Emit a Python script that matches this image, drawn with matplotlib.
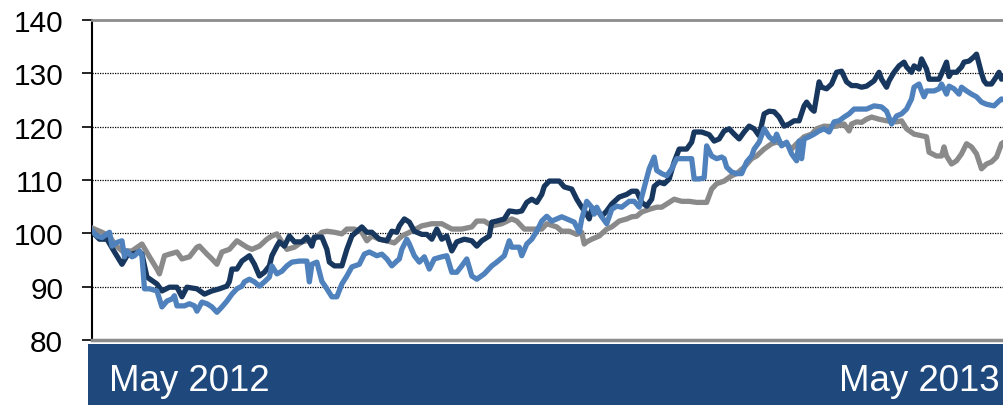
import matplotlib
matplotlib.use("Agg")
import matplotlib.pyplot as plt
from matplotlib.patches import Rectangle

# Calendar-day offsets from the start of the period and index levels (start = 100)
navy_days = [0, 3, 6, 9, 12, 14, 16, 19, 20, 22, 26, 28, 31, 34, 36, 38, 42, 45, 48, 51,
             54, 55, 56, 58, 60, 63, 65, 67, 69, 71, 72, 74, 75, 77, 79, 81, 84, 86, 88, 89,
             92, 94, 95, 97, 100, 102, 104, 108, 110, 112, 115, 118, 120, 122, 123, 125, 127, 129, 132, 134,
             136, 138, 140, 142, 144, 146, 149, 152, 154, 156, 159, 160, 162, 165, 167, 170, 172, 174, 176, 178,
             180, 181, 183, 187, 189, 192, 194, 196, 198, 199, 200, 202, 204, 206, 208, 211, 214, 216, 218, 220,
             222, 224, 225, 227, 229, 231, 233, 235, 238, 240, 241, 244, 247, 249, 251, 253, 255, 257, 259, 261,
             263, 265, 267, 269, 271, 273, 275, 277, 279, 281, 283, 285, 286, 288, 289, 291, 292, 294, 296, 298,
             300, 302, 304, 306, 308, 310, 313, 315, 316, 318, 319, 321, 323, 325, 326, 328, 329, 331, 332, 334,
             335, 337, 339, 340, 342, 343, 344, 346, 348, 349, 351, 353, 354, 356, 357, 358, 360, 362, 363, 364, 365]
navy_vals = [100.3, 98.9, 98.9, 96.5, 94.2, 95.8, 96.1, 96.5, 96.1, 91.8, 90.5, 89.2, 89.9, 89.9, 88.1, 89.9, 89.6, 88.6, 89.2, 89.6,
             90.1, 91.0, 93.3, 93.3, 94.8, 95.8, 94.2, 92.0, 92.7, 93.9, 95.8, 97.6, 98.4, 97.6, 99.5, 98.4, 98.4, 99.3, 97.6, 99.3,
             99.3, 97.0, 94.6, 93.9, 93.9, 97.0, 99.5, 101.2, 100.2, 100.2, 98.9, 98.6, 100.4, 100.2, 101.4, 102.7, 102.1, 100.4, 99.8, 99.8,
             98.9, 100.8, 98.9, 99.5, 96.7, 98.4, 98.9, 98.6, 97.6, 98.6, 99.5, 102.1, 102.3, 102.7, 104.2, 104.0, 104.2, 105.8, 106.4, 105.8,
             107.3, 108.8, 109.8, 109.8, 108.7, 108.3, 106.4, 104.9, 103.6, 102.7, 104.5, 104.5, 103.2, 104.2, 105.5, 106.8, 107.3, 107.9, 107.9, 105.8,
             105.1, 106.4, 108.8, 109.6, 109.3, 110.2, 113.4, 115.8, 115.8, 117.1, 119.0, 119.0, 118.5, 117.3, 117.7, 119.2, 119.6, 118.6, 117.7, 119.0,
             120.1, 119.6, 118.3, 122.4, 122.9, 122.8, 121.8, 120.1, 120.5, 121.1, 121.1, 123.9, 124.6, 123.3, 122.9, 128.4, 127.4, 127.1, 128.0, 130.2,
             130.4, 128.4, 127.7, 127.7, 127.4, 127.6, 128.6, 130.2, 128.9, 127.4, 128.6, 130.2, 131.4, 132.1, 131.2, 130.2, 131.4, 130.8, 132.7, 130.8,
             128.9, 128.9, 128.9, 129.9, 132.1, 129.4, 130.2, 130.2, 131.2, 132.1, 132.3, 133.1, 133.6, 130.0, 128.6, 128.0, 128.0, 129.4, 130.2, 128.9, 129.5]

blue_days = [0, 2, 4, 7, 8, 10, 12, 13, 14, 16, 17, 19, 20, 21, 23, 26, 28, 30, 32, 33,
             34, 37, 39, 41, 42, 44, 46, 48, 50, 52, 54, 56, 58, 60, 61, 63, 65, 67, 69, 71,
             72, 74, 76, 78, 80, 83, 86, 87, 88, 90, 92, 94, 96, 98, 100, 102, 104, 107, 109, 111,
             114, 116, 118, 120, 122, 123, 124, 126, 127, 129, 131, 133, 135, 137, 140, 142, 144, 146, 148, 150,
             152, 154, 157, 160, 162, 165, 167, 168, 171, 172, 174, 176, 178, 180, 182, 184, 188, 190, 193, 195,
             196, 198, 200, 201, 202, 204, 206, 208, 210, 212, 215, 217, 219, 220, 223, 225, 226, 228, 230, 232,
             234, 236, 239, 240, 241, 243, 245, 246, 248, 250, 252, 253, 254, 256, 258, 260, 262, 264, 265, 267,
             269, 271, 273, 274, 276, 278, 280, 282, 283, 284, 285, 287, 289, 291, 293, 295, 297, 299, 301, 303,
             305, 308, 310, 313, 316, 318, 320, 322, 324, 326, 328, 329, 331, 332, 333, 334, 337, 339, 340, 342,
             343, 345, 347, 348, 350, 352, 354, 356, 358, 361, 363, 364, 365]
blue_vals = [100.5, 99.5, 99.2, 100.2, 97.6, 98.3, 98.6, 95.6, 96.7, 95.6, 95.8, 96.7, 95.8, 89.6, 89.6, 89.2, 86.2, 87.3, 87.7, 88.3,
             86.4, 86.4, 86.8, 86.4, 85.4, 87.1, 86.8, 86.2, 85.2, 86.2, 87.3, 88.6, 89.6, 90.1, 90.9, 91.4, 90.9, 90.1, 90.9, 91.8,
             93.9, 92.4, 92.9, 93.9, 94.6, 94.8, 94.8, 90.9, 94.2, 94.6, 91.0, 89.6, 88.1, 88.1, 90.5, 92.0, 93.7, 94.2, 96.1, 96.5,
             95.8, 96.1, 95.2, 93.9, 94.8, 95.2, 97.0, 98.9, 98.0, 95.8, 94.6, 95.6, 93.3, 95.2, 95.6, 95.8, 92.7, 92.7, 93.9, 95.2,
             92.0, 91.4, 92.4, 93.9, 94.6, 95.8, 98.6, 97.4, 97.4, 95.8, 98.0, 98.9, 100.4, 102.3, 103.2, 102.3, 103.1, 102.7, 102.1, 100.2,
             102.7, 106.0, 104.9, 103.6, 104.9, 103.1, 101.8, 104.5, 105.1, 104.9, 106.0, 106.0, 104.9, 106.8, 112.1, 114.3, 111.8, 111.2, 110.8, 112.1,
             114.0, 114.0, 114.0, 114.0, 110.2, 110.2, 110.4, 116.4, 114.5, 114.0, 114.3, 114.0, 112.4, 111.5, 111.2, 111.2, 113.4, 114.5, 115.8, 117.1,
             119.6, 118.1, 117.3, 118.6, 116.4, 117.1, 114.9, 113.6, 117.3, 114.0, 117.7, 118.1, 118.6, 119.2, 119.6, 119.0, 120.9, 121.1, 121.8, 122.4,
             123.3, 123.3, 123.3, 123.9, 123.7, 122.9, 120.5, 122.0, 122.4, 123.3, 125.2, 127.4, 128.0, 126.7, 125.6, 126.7, 126.7, 127.1, 128.0, 126.1,
             127.6, 127.1, 126.1, 127.4, 126.7, 126.1, 125.6, 124.6, 124.2, 123.9, 124.8, 125.2, 125.0]

gray_days = [0, 4, 7, 9, 12, 16, 20, 23, 26, 27, 29, 31, 34, 36, 39, 42, 43, 46, 48, 50,
             52, 55, 58, 60, 62, 64, 67, 70, 72, 74, 76, 78, 81, 84, 86, 89, 92, 94, 97, 100,
             102, 105, 108, 110, 112, 115, 118, 121, 124, 128, 132, 136, 140, 144, 148, 152, 154, 157, 160, 164,
             168, 170, 173, 176, 180, 182, 186, 188, 191, 194, 196, 197, 198, 200, 203, 206, 208, 211, 214, 216,
             218, 220, 223, 226, 228, 231, 233, 236, 239, 242, 244, 246, 248, 250, 253, 256, 258, 261, 264, 266,
             269, 272, 274, 276, 278, 280, 282, 285, 288, 290, 293, 296, 298, 301, 303, 304, 306, 308, 310, 312,
             315, 318, 322, 324, 326, 329, 332, 334, 335, 338, 340, 341, 342, 344, 346, 348, 350, 352, 354, 356,
             358, 360, 362, 364, 365]
gray_vals = [101.0, 100.2, 99.5, 98.0, 96.7, 96.7, 98.0, 95.6, 93.3, 92.4, 95.8, 96.1, 96.5, 95.2, 95.6, 97.4, 97.6, 96.1, 95.2, 94.2,
             96.5, 97.0, 98.6, 98.0, 97.4, 97.0, 97.6, 98.9, 99.5, 99.9, 98.4, 97.0, 97.4, 98.4, 98.6, 98.9, 100.2, 100.4, 100.2, 99.9,
             100.8, 100.8, 100.2, 98.6, 99.5, 98.9, 98.6, 98.2, 99.5, 100.4, 101.4, 101.8, 101.8, 100.8, 100.8, 101.2, 102.3, 102.3, 101.4, 101.8,
             102.7, 102.3, 100.8, 100.8, 100.8, 101.8, 101.2, 100.4, 100.4, 99.8, 100.2, 98.0, 98.4, 98.9, 99.5, 100.8, 101.2, 102.3, 102.7, 103.1,
             103.2, 104.0, 104.5, 104.9, 104.9, 105.8, 106.4, 106.0, 106.0, 105.8, 105.8, 105.8, 108.3, 109.3, 109.8, 110.8, 111.2, 112.4, 114.0, 114.5,
             115.8, 116.8, 117.1, 116.8, 116.8, 115.8, 116.8, 118.1, 118.6, 119.6, 120.1, 120.0, 120.1, 120.5, 119.2, 120.5, 120.9, 120.8, 121.4, 121.8,
             121.4, 121.1, 120.9, 121.1, 119.6, 118.6, 118.3, 118.1, 115.2, 114.5, 114.5, 116.2, 114.5, 113.0, 113.6, 114.9, 116.8, 116.2, 114.9, 112.1,
             113.0, 113.4, 114.3, 116.8, 117.1]

y_ticks = [80, 90, 100, 110, 120, 130, 140]
period_labels = ["May 2012", "May 2013"]

NAVY = "#17375E"
BLUE = "#4F81BD"
GRAY = "#8A8A8A"
BAND = "#1F497D"
FONT = "Liberation Sans"

fig = plt.figure(figsize=(10.04, 4.06), dpi=100)
ax = fig.add_axes([92 / 1004, 65 / 406, 912 / 1004, 320 / 406])

ax.plot(gray_days, gray_vals, color=GRAY, lw=3.8, zorder=3, solid_joinstyle="round")
ax.plot(navy_days, navy_vals, color=NAVY, lw=3.8, zorder=4, solid_joinstyle="round")
ax.plot(blue_days, blue_vals, color=BLUE, lw=3.8, zorder=5, solid_joinstyle="round")

ax.set_xlim(0, 365)
ax.set_ylim(80, 140)
ax.set_yticks(y_ticks)
ax.set_yticklabels([str(t) for t in y_ticks], fontsize=21.5, family=FONT)
ax.set_xticks([])
ax.tick_params(axis="y", direction="out", length=7.2, width=1.2, color="black", pad=13.5)

for v in y_ticks[1:-1]:
    ax.axhline(v, color="black", lw=0.9, linestyle=(0, (1, 1)), zorder=1)

ax.spines["right"].set_visible(False)
ax.spines["left"].set_color("black")
ax.spines["left"].set_linewidth(1.5)
ax.spines["top"].set_color("#8C8C8C")
ax.spines["top"].set_linewidth(2.0)
ax.spines["bottom"].set_color("#8C8C8C")
ax.spines["bottom"].set_linewidth(2.5)

# Period band below the plot
fig.patches.append(Rectangle((88 / 1004, 0), 1 - 88 / 1004, 61 / 406,
                             transform=fig.transFigure, facecolor=BAND, edgecolor="none"))
fig.text(109 / 1004, 15 / 406, period_labels[0], color="white", fontsize=26.4,
         family=FONT, ha="left", va="baseline")
fig.text(1000 / 1004, 15 / 406, period_labels[1], color="white", fontsize=26.4,
         family=FONT, ha="right", va="baseline")

fig.savefig("out.png", dpi=100)
